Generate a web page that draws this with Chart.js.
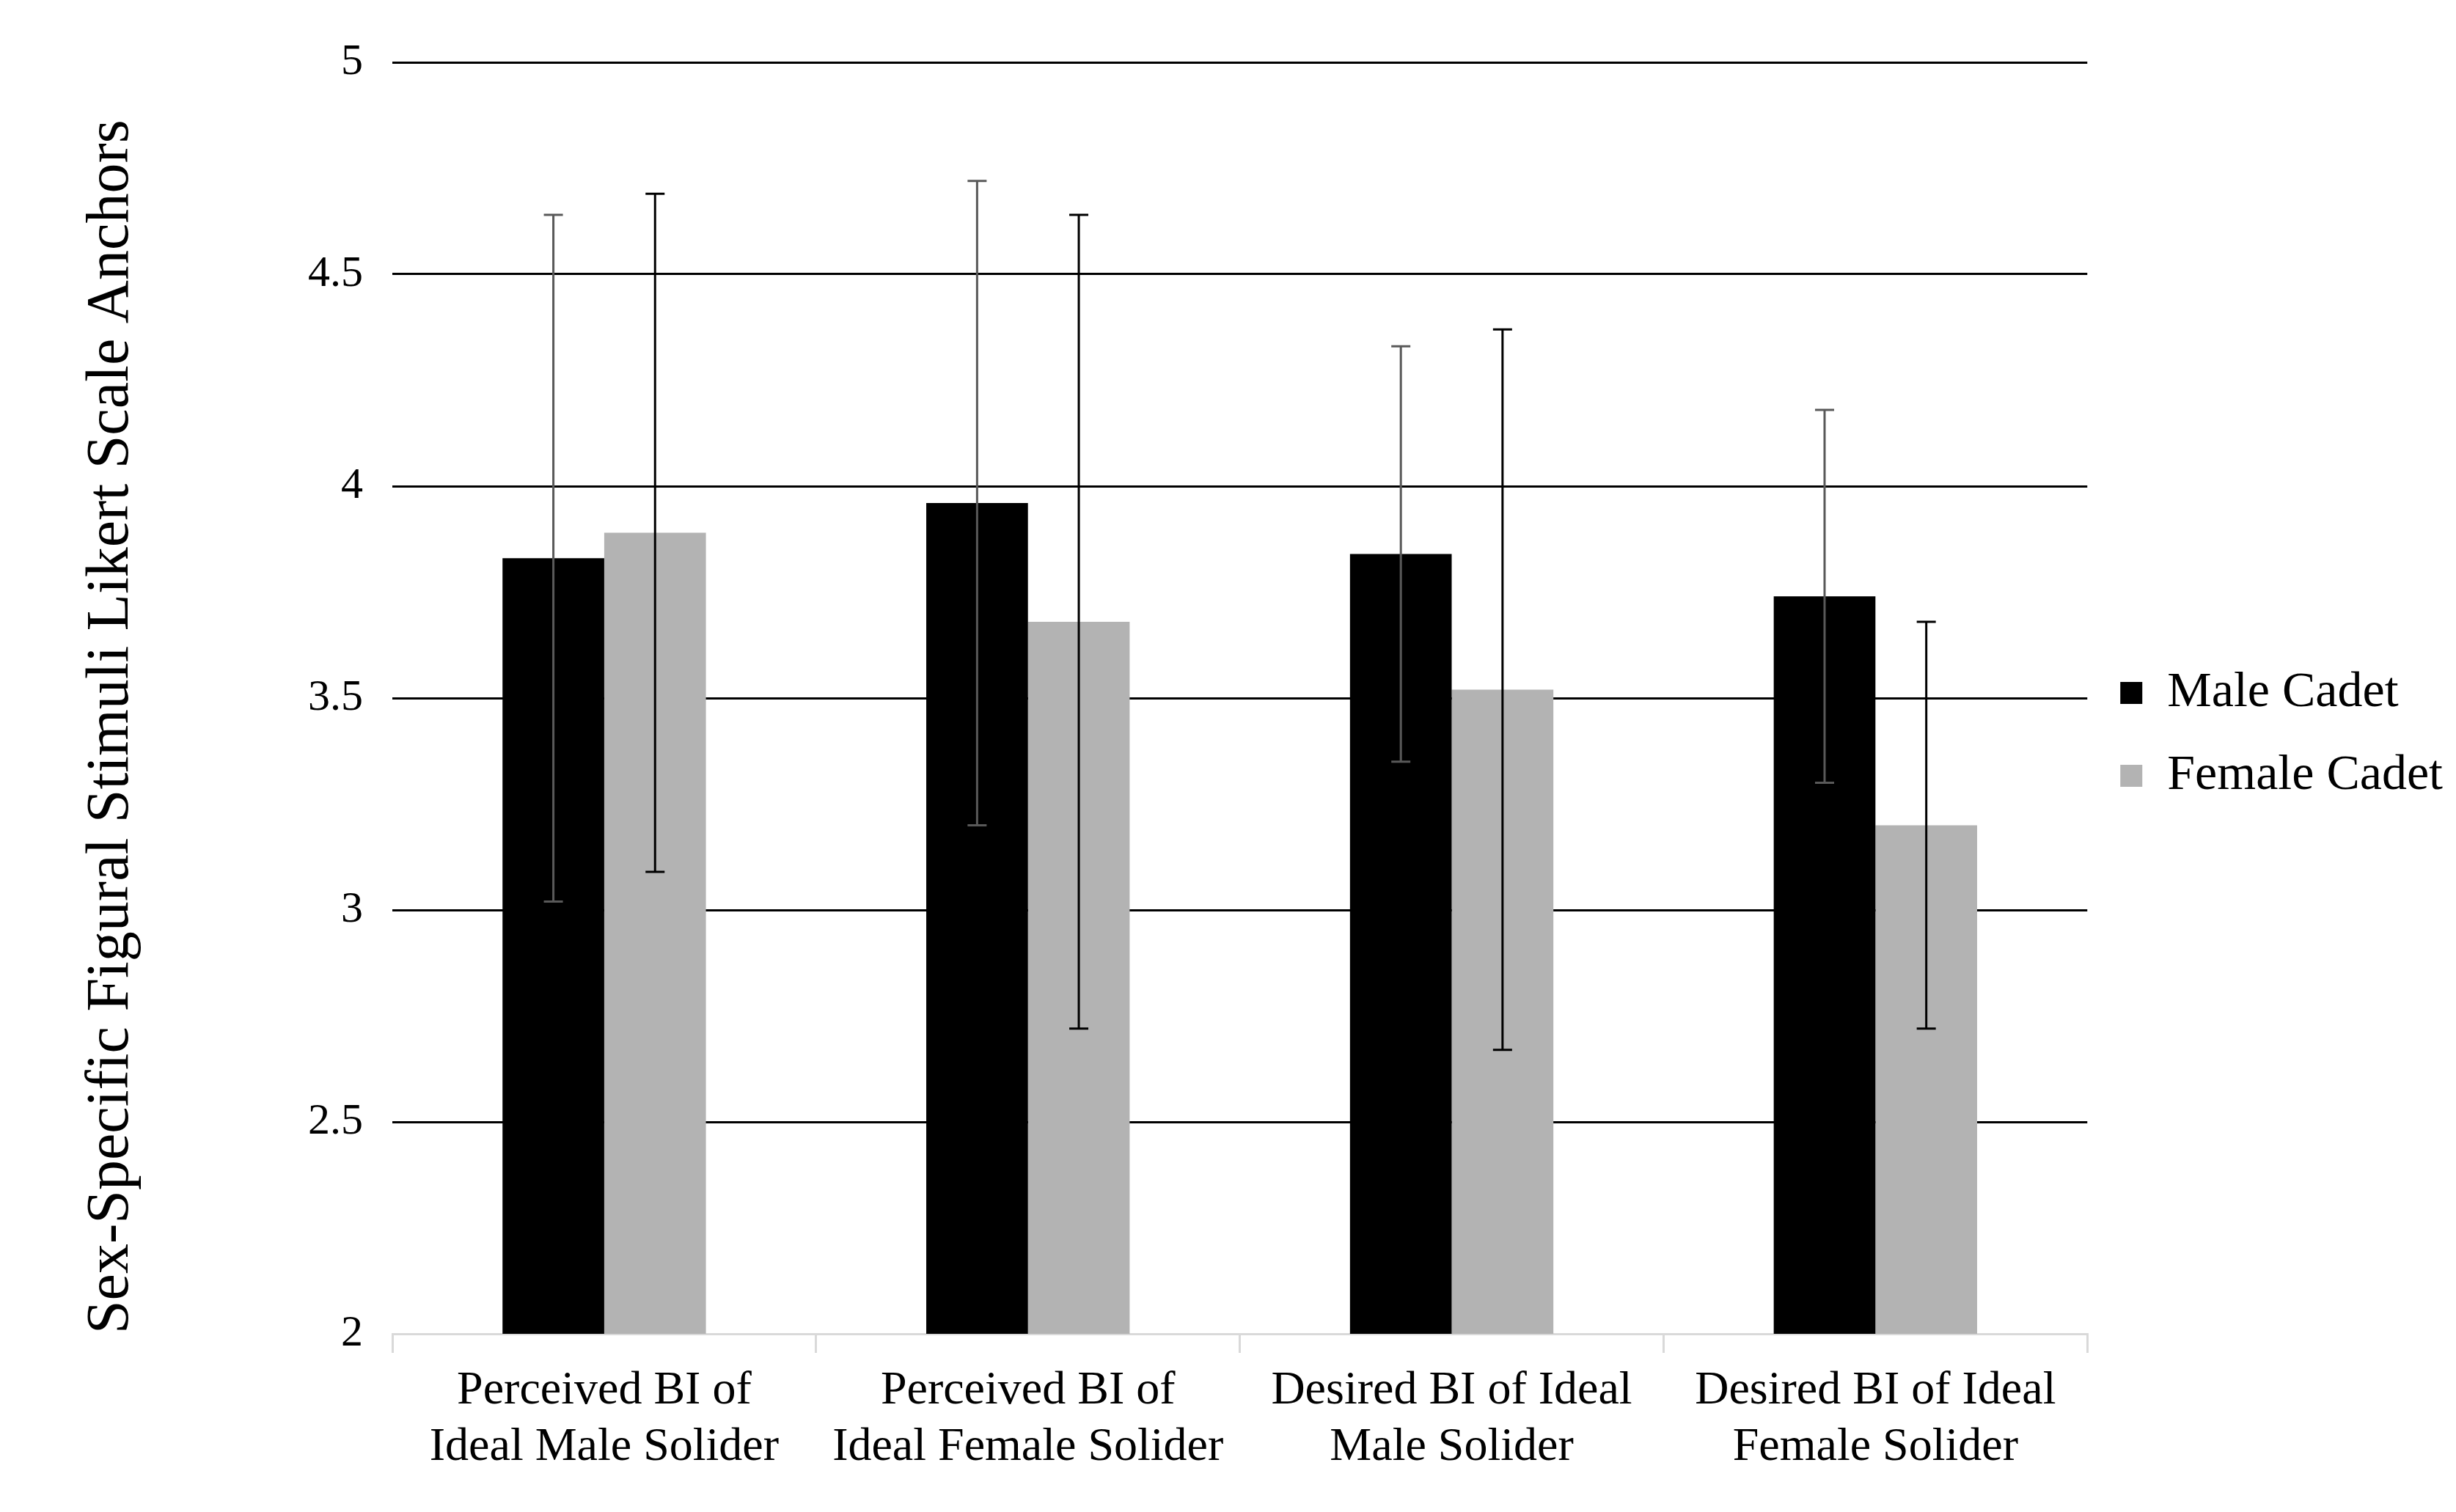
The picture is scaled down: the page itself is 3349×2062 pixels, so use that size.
<!DOCTYPE html>
<html>
<head>
<meta charset="utf-8">
<script src="https://cdn.jsdelivr.net/npm/chart.js@4.4.1/dist/chart.umd.min.js"></script>
<style>
  html, body { margin: 0; padding: 0; background: #fff; }
  #wrap { width: 3349px; height: 2062px; }
</style>
</head>
<body>
<div id="wrap"><canvas id="grafico"></canvas></div>
<script>
// dados
const categorias = [
    ["Perceived BI of", "Ideal Male Solider"],
    ["Perceived BI of", "Ideal Female Solider"],
    ["Desired BI of Ideal", "Male Solider"],
    ["Desired BI of Ideal", "Female Solider"]
];
const maleCadet = [3.83, 3.96, 3.84, 3.74];
const maleErro = [0.81, 0.76, 0.49, 0.44];
const femaleCadet = [3.89, 3.68, 3.52, 3.20];
const femaleErro = [0.80, 0.96, 0.85, 0.48];
const yTicks = [2, 2.5, 3, 3.5, 4, 4.5, 5];

const fonte = "'Liberation Serif', 'Times New Roman', serif";

// barras de erro desenhadas pela escala y
const barrasErro = {
    id: 'barrasErro',
    afterDatasetsDraw(chart) {
        const ctx = chart.ctx;
        const y = chart.scales.y;
        chart.data.datasets.forEach((ds, di) => {
            const meta = chart.getDatasetMeta(di);
            meta.data.forEach((bar, i) => {
                let topo = y.getPixelForValue(ds.data[i] + ds.erros[i]);
                let base = y.getPixelForValue(ds.data[i] - ds.erros[i]);
                ctx.save();
                ctx.strokeStyle = ds.corErro;
                ctx.lineWidth = 3;
                ctx.beginPath();
                ctx.moveTo(bar.x, topo);
                ctx.lineTo(bar.x, base);
                ctx.moveTo(bar.x - 13, topo);
                ctx.lineTo(bar.x + 13, topo);
                ctx.moveTo(bar.x - 13, base);
                ctx.lineTo(bar.x + 13, base);
                ctx.stroke();
                ctx.restore();
            });
        });
    }
};

const grafico = new Chart(document.getElementById('grafico'), {
    type: 'bar',
    data: {
        labels: categorias,
        datasets: [{
            label: 'Male Cadet',
            data: maleCadet,
            erros: maleErro,
            corErro: '#595959',
            backgroundColor: '#000000',
            categoryPercentage: 0.48,
            barPercentage: 1.0
        }, {
            label: 'Female Cadet',
            data: femaleCadet,
            erros: femaleErro,
            corErro: '#000000',
            backgroundColor: '#b3b3b3',
            categoryPercentage: 0.48,
            barPercentage: 1.0
        }]
    },
    options: {
        responsive: true,
        maintainAspectRatio: false,
        devicePixelRatio: 1,
        animation: false,
        layout: { padding: { top: 85, right: 8, bottom: 0, left: 0 } },
        plugins: {
            tooltip: { enabled: false },
            legend: {
                position: 'right',
                fullSize: false,
                title: {
                    display: true,
                    text: ' ',
                    padding: { top: 87, bottom: 0 },
                    font: { size: 10 }
                },
                labels: {
                    boxWidth: 30,
                    boxHeight: 30,
                    padding: 45,
                    color: '#000',
                    font: { family: fonte, size: 68 }
                }
            }
        },
        scales: {
            x: {
                grid: {
                    display: true,
                    drawOnChartArea: false,
                    drawTicks: true,
                    tickLength: 26,
                    color: '#d9d9d9',
                    lineWidth: 3
                },
                border: { display: true, color: '#d9d9d9', width: 3 },
                ticks: {
                    color: '#000',
                    padding: 14,
                    maxRotation: 0,
                    font: { family: fonte, size: 64, lineHeight: 1.2 }
                },
                afterFit: (scale) => { scale.height = 243; }
            },
            y: {
                min: 2,
                max: 5,
                afterBuildTicks: (scale) => { scale.ticks = yTicks.map(v => ({ value: v })); },
                grid: {
                    drawTicks: false,
                    color: (c) => c.tick && c.tick.value === 2 ? 'rgba(0,0,0,0)' : '#000000',
                    lineWidth: 3
                },
                border: { display: false },
                ticks: {
                    color: '#000',
                    padding: 40,
                    font: { family: fonte, size: 60 },
                    callback: (v) => String(v)
                },
                title: {
                    display: true,
                    text: 'Sex-Specific Figural Stimuli Likert Scale Anchors',
                    color: '#000',
                    align: 'start',
                    padding: { top: 103, bottom: 0 },
                    font: { family: fonte, size: 82 }
                },
                afterFit: (scale) => { scale.width = 535; }
            }
        }
    },
    plugins: [barrasErro]
});
</script>
</body>
</html>
